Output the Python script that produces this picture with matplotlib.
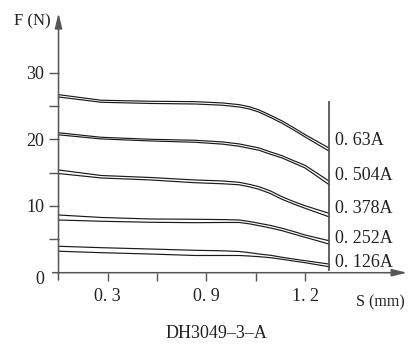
import matplotlib
matplotlib.use("Agg")
import matplotlib.pyplot as plt

plt.rcParams['font.family'] = ['Liberation Serif', 'DejaVu Serif']

# ---- data ----
x_pts = [0, 0.26, 0.56, 0.83, 1.0, 1.10, 1.16, 1.22, 1.29, 1.36, 1.43, 1.50, 1.645]

currents = ['0. 63A', '0. 504A', '0. 378A', '0. 252A', '0. 126A']

upper_063 = [26.69, 25.85, 25.70, 25.64, 25.44, 25.19, 24.88, 24.40, 23.60, 22.75, 21.75, 20.70, 18.70]
lower_063 = [26.34, 25.55, 25.37, 25.29, 25.10, 24.84, 24.55, 24.07, 23.27, 22.40, 21.40, 20.35, 18.24]

upper_0504 = [20.98, 20.30, 20.00, 19.85, 19.60, 19.30, 19.00, 18.70, 18.10, 17.54, 16.80, 16.10, 13.75]
lower_0504 = [20.67, 20.05, 19.75, 19.55, 19.27, 18.95, 18.65, 18.35, 17.75, 17.20, 16.45, 15.70, 13.22]

upper_0378 = [15.40, 14.57, 14.27, 13.90, 13.75, 13.55, 13.25, 12.89, 12.25, 11.39, 10.67, 10.04, 8.91]
lower_0378 = [14.87, 14.20, 13.90, 13.49, 13.33, 13.18, 12.88, 12.50, 11.86, 11.00, 10.30, 9.66, 8.38]

upper_0252 = [8.65, 8.28, 8.05, 8.01, 7.96, 7.90, 7.68, 7.41, 7.08, 6.66, 6.18, 5.65, 4.80]
lower_0252 = [7.90, 7.71, 7.56, 7.50, 7.53, 7.53, 7.33, 7.05, 6.70, 6.30, 5.80, 5.31, 4.30]

upper_0126 = [3.96, 3.75, 3.55, 3.36, 3.28, 3.18, 3.01, 2.80, 2.61, 2.31, 2.05, 1.80, 1.30]
lower_0126 = [3.22, 3.00, 2.80, 2.58, 2.58, 2.58, 2.50, 2.40, 2.25, 2.01, 1.75, 1.50, 0.90]

label_y = [19.8, 14.5, 9.65, 5.16, 1.53]

y_ticks = [5, 10, 15, 20, 25, 30]
y_ticklabels = ['', '10', '', '20', '', '30']
x_ticks = [0.3, 0.6, 0.9, 1.2, 1.5]
x_ticklabels = ['0. 3', '', '0. 9', '', '1. 2']

x_end = 1.645
xmax, ymax = 2.12, 38.9

# ---- figure ----
W, H = 416, 352
fig = plt.figure(figsize=(W / 100, H / 100), dpi=100)
ax = fig.add_axes([58.5 / W, 79.3 / H, 348.5 / W, 259.5 / H])
ax.set_xlim(0, xmax)
ax.set_ylim(0, ymax)
for s in ax.spines.values():
    s.set_visible(False)

line_col = '#1a1a1a'
axis_col = '#555555'

pairs = [(upper_063, lower_063), (upper_0504, lower_0504), (upper_0378, lower_0378),
         (upper_0252, lower_0252), (upper_0126, lower_0126)]
for up, lo in pairs:
    ax.plot(x_pts, up, color=line_col, lw=0.85, clip_on=False, solid_joinstyle='round')
    ax.plot(x_pts, lo, color=line_col, lw=0.85, clip_on=False, solid_joinstyle='round')

# right vertical reference line
ax.plot([x_end, x_end], [0.4, 25.6], color=axis_col, lw=1.3, clip_on=False)

for lab, yv in zip(currents, label_y):
    ax.text(x_end + 0.04, yv, lab, fontsize=13, va='center', ha='left', color='#222222')

# axes with arrows
ax.annotate('', xy=(xmax, 0), xytext=(-0.036, 0), annotation_clip=False,
            arrowprops=dict(arrowstyle='-|>,head_length=0.9,head_width=0.22',
                            color=axis_col, lw=1.1, shrinkA=0, shrinkB=0))
ax.annotate('', xy=(0, ymax), xytext=(0, -1.1), annotation_clip=False,
            arrowprops=dict(arrowstyle='-|>,head_length=0.9,head_width=0.22',
                            color=axis_col, lw=1.1, shrinkA=0, shrinkB=0))

ax.set_yticks(y_ticks)
ax.set_yticklabels(y_ticklabels)
ax.set_xticks(x_ticks)
ax.set_xticklabels(x_ticklabels)
ax.tick_params(axis='y', direction='out', length=7.2, width=1, color=axis_col,
               labelsize=13, pad=3, labelcolor='#222222')
ax.tick_params(axis='x', direction='out', length=5.8, width=1, color=axis_col,
               labelsize=13, pad=5, labelcolor='#222222')

fig.text(44 / W, 1 - 279.5 / H, '0', fontsize=13, ha='right', va='center', color='#222222')
fig.text(32 / W, 1 - 21 / H, 'F (N)', fontsize=12, ha='center', va='center', color='#222222')
fig.text(380 / W, 1 - 302 / H, 'S (mm)', fontsize=11.5, ha='center', va='center', color='#222222')
fig.text(216 / W, 1 - 333 / H, 'DH3049–3–A', fontsize=13, ha='center', va='center', color='#222222')

fig.savefig('out.png', dpi=100, facecolor='white')
